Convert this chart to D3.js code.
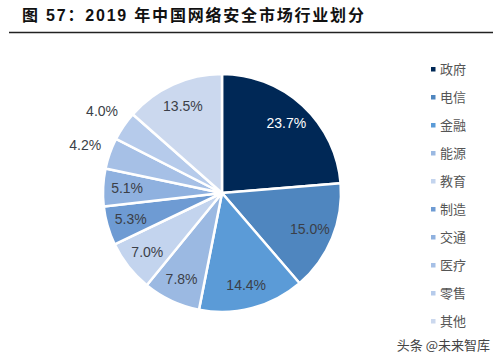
<!DOCTYPE html>
<html>
<head>
<meta charset="utf-8">
<script src="https://cdn.jsdelivr.net/npm/d3@7"></script>
<style>
  body { margin: 0; background: #fff; }
</style>
</head>
<body>
<div id="chart"></div>
<script>
// data
var categories = ["政府", "电信", "金融", "能源", "教育", "制造", "交通", "医疗", "零售", "其他"];
var values = [23.7, 15.0, 14.4, 7.8, 7.0, 5.3, 5.1, 4.2, 4.0, 13.5];
var colors = ["#002856", "#4f86bf", "#5b9bd7", "#9bb9e2", "#c3d4ee", "#6e9bd3", "#8fb1df", "#a6c0e6", "#b6cbeb", "#cbd8ee"];

var width = 499, height = 361;
var cx = 222, cy = 193, radius = 119;

var svg = d3.select("#chart")
  .append("svg")
  .attr("width", width)
  .attr("height", height);

// title
svg.append("text")
  .attr("x", 22)
  .attr("y", 21)
  .text("图 57：2019 年中国网络安全市场行业划分")
  .style("font-family", "'Liberation Sans', 'Noto Sans CJK SC', sans-serif")
  .style("font-weight", "bold")
  .style("font-size", "16px")
  .style("letter-spacing", "1.8px")
  .attr("fill", "#111");

svg.append("line")
  .attr("x1", 9).attr("x2", 493)
  .attr("y1", 32.5).attr("y2", 32.5)
  .attr("stroke", "#222")
  .attr("stroke-width", 1.3);

var data = categories.map(function(c, i) {
  return {name: c, value: values[i], color: colors[i]};
});

var pie = d3.pie()
  .sort(null)
  .value(function(d) { return d.value; });

var arc = d3.arc()
  .innerRadius(0)
  .outerRadius(radius);

var g = svg.append("g")
  .attr("transform", "translate(" + cx + "," + cy + ")");

var arcs = pie(data);

g.selectAll("path")
  .data(arcs)
  .enter().append("path")
  .attr("d", arc)
  .attr("fill", function(d) { return d.data.color; })
  .attr("stroke", "#fff")
  .attr("stroke-width", 2.5)
  .attr("stroke-linejoin", "round");

// labels: inside for large slices, outside for small ones
var inArc = d3.arc().innerRadius(95).outerRadius(95);
var outArc = d3.arc().innerRadius(145).outerRadius(145);

g.selectAll(".lbl")
  .data(arcs)
  .enter().append("text")
  .attr("class", "lbl")
  .attr("transform", function(d) {
    var p = d.data.value < 4.5 ? outArc.centroid(d) : inArc.centroid(d);
    return "translate(" + p + ")";
  })
  .attr("text-anchor", "middle")
  .attr("dy", "0.35em")
  .text(function(d) { return d.data.value.toFixed(1) + "%"; })
  .style("font-family", "'Liberation Sans', Arial, sans-serif")
  .style("font-size", "14px")
  .attr("fill", function(d, i) { return i === 0 ? "#fff" : "#3b3f48"; });

// legend
var legend = svg.append("g")
  .attr("transform", "translate(431,69)");

var item = legend.selectAll(".item")
  .data(data)
  .enter().append("g")
  .attr("class", "item")
  .attr("transform", function(d, i) { return "translate(0," + (i * 28) + ")"; });

item.append("rect")
  .attr("x", 0).attr("y", -2)
  .attr("width", 4.5).attr("height", 4.5)
  .attr("fill", function(d) { return d.color; });

item.append("text")
  .attr("x", 9)
  .attr("dy", "0.38em")
  .text(function(d) { return d.name; })
  .style("font-family", "'Noto Sans CJK SC', sans-serif")
  .style("font-size", "13px")
  .attr("fill", "#555");

// watermark
svg.append("text")
  .attr("x", 490)
  .attr("y", 350)
  .attr("text-anchor", "end")
  .text("头条 @未来智库")
  .style("font-family", "'Noto Sans CJK SC', sans-serif")
  .style("font-size", "13px")
  .attr("fill", "#444");
</script>
</body>
</html>
